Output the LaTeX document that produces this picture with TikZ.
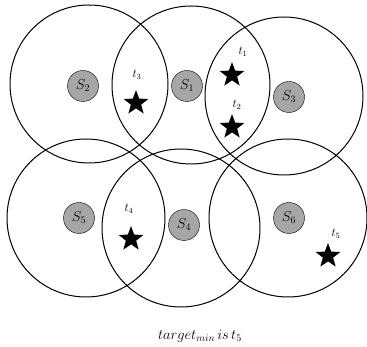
\documentclass[tikz,border=0pt]{standalone}
\usetikzlibrary{shapes.geometric}
\tikzset{
  sensor/.style={circle, draw, fill=black!35, minimum size=31pt, inner sep=0pt, font=\Large},
  target/.style={star, star points=5, star point ratio=2.4, fill=black, minimum size=26pt, inner sep=0pt},
  tlabel/.style={font=\large, inner sep=1pt}
}
\begin{document}
\begin{tikzpicture}[x=1pt, y=-1pt, line join=round, line cap=round]
  \useasboundingbox (0,0) rectangle (367,347);

  \coordinate (C2) at (89,84);
  \coordinate (C1) at (191,85);
  \coordinate (C3) at (284,96);
  \coordinate (C5) at (86,218);
  \coordinate (C4) at (181,228);
  \coordinate (C6) at (288,218);

  \draw[line width=1pt] (C2) circle (79);
  \draw[line width=1pt] (C1) circle (79);
  \draw[line width=1pt] (C3) circle (79);
  \draw[line width=1pt] (C5) circle (79);
  \draw[line width=1pt] (C4) circle (79);
  \draw[line width=1pt] (C6) circle (79);

  \node[sensor] (S2) at (83,86) {$S_2$};
  \node[sensor] (S1) at (187,86) {$S_1$};
  \node[sensor] (S3) at (289,97) {$S_3$};
  \node[sensor] (S5) at (79,218) {$S_5$};
  \node[sensor] (S4) at (184,225) {$S_4$};
  \node[sensor] (S6) at (289,218) {$S_6$};

  \node[target] (T1) at (232,75) {};
  \node[target] (T2) at (232,127) {};
  \node[target] (T3) at (136,103) {};
  \node[target] (T4) at (131,239) {};
  \node[target] (T5) at (328,256) {};

  \node[tlabel] (L1) at (243,52) {$t_1$};
  \node[tlabel] (L2) at (237,105) {$t_2$};
  \node[tlabel] (L3) at (137,75) {$t_3$};
  \node[tlabel] (L4) at (129,209) {$t_4$};
  \node[tlabel] (L5) at (336,234) {$t_5$};

  \node[font=\Large] (cap) at (200,336) {$target_{min}\,is\,t_5$};
\end{tikzpicture}
\end{document}
